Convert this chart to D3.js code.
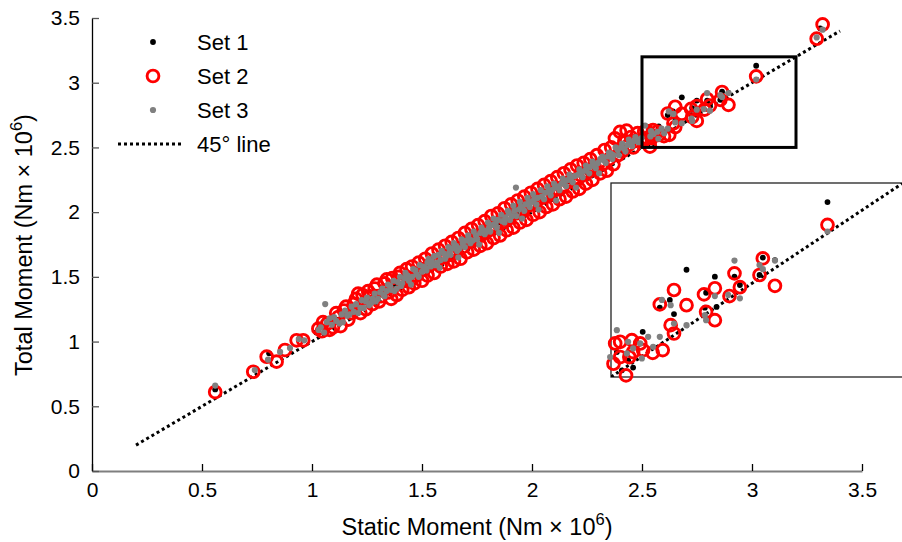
<!DOCTYPE html>
<html><head><meta charset="utf-8">
<script src="https://cdn.jsdelivr.net/npm/d3@7"></script>
<style>
body{margin:0;background:#fff;}
text{font-family:"Liberation Sans",Arial,Helvetica,sans-serif;fill:#000;}
</style></head>
<body><svg id="c" width="902" height="542"></svg>
<script>
const xTicks=[0,0.5,1,1.5,2,2.5,3,3.5];
const xTickLabels=["0","0.5","1","1.5","2","2.5","3","3.5"];
const yTicks=[0,0.5,1,1.5,2,2.5,3,3.5];
const yTickLabels=["0","0.5","1","1.5","2","2.5","3","3.5"];
const seriesNames=["Set 1","Set 2","Set 3","45° line"];
const lineEnds=[0.2,3.4];
const zoomBox=[2.5,3.2];

const set1=[[0.56,0.63],[0.805,0.909],[1.02,1.07],[1.12,1.17],[1.22,1.27],[1.30,1.36],[1.38,1.44],[1.46,1.53],[1.53,1.59],[1.61,1.68],[1.69,1.75],[1.77,1.83],[1.85,1.92],[1.93,1.99],[2.01,2.08],[2.09,2.15],[2.17,2.24],[2.25,2.31],[2.33,2.40],[2.41,2.47],[2.514,2.590],[2.526,2.524],[2.541,2.560],[2.553,2.534],[2.576,2.663],[2.617,2.750],[2.641,2.778],[2.651,2.727],[2.681,2.887],[2.725,2.750],[2.728,2.804],[2.749,2.862],[2.753,2.753],[2.796,2.862],[2.809,2.832],[2.856,2.868],[2.864,2.931],[2.893,2.922],[3.019,3.131],[3.31,3.42]];

const set2=[[0.56,0.61],[0.733,0.767],[0.794,0.883],[0.839,0.845],[0.877,0.935],[0.93,1.01],[0.96,1.01],[1.029,1.10],[1.045,1.08],[1.07,1.14],[1.095,1.11],[1.12,1.19],[1.145,1.24],[1.165,1.17],[1.19,1.29],[1.21,1.37],[1.23,1.36],[1.245,1.25],[1.265,1.35],[1.285,1.41],[1.305,1.31],[1.33,1.45],[1.35,1.38],[1.365,1.49],[1.385,1.36],[1.40,1.53],[1.42,1.47],[1.44,1.42],[1.455,1.58],[1.475,1.51],[1.50,1.47],[1.515,1.64],[1.535,1.59],[1.555,1.53],[1.575,1.71],[1.595,1.65],[1.615,1.60],[1.635,1.77],[1.655,1.70],[1.675,1.64],[1.695,1.84],[1.715,1.77],[1.735,1.71],[1.755,1.90],[1.775,1.83],[1.795,1.76],[1.815,1.97],[1.835,1.89],[1.855,1.82],[1.875,2.03],[1.895,1.95],[1.915,1.88],[1.935,2.09],[1.955,2.01],[1.975,1.94],[1.995,2.15],[2.015,2.07],[2.035,2.00],[2.055,2.21],[2.075,2.13],[2.095,2.06],[2.115,2.27],[2.135,2.19],[2.155,2.12],[2.175,2.33],[2.195,2.25],[2.215,2.18],[2.235,2.38],[2.255,2.31],[2.275,2.25],[2.295,2.44],[2.32,2.37],[2.34,2.32],[2.36,2.50],[2.377,2.57],[2.39,2.44],[2.40,2.62],[2.42,2.55],[2.43,2.63],[2.45,2.58],[2.46,2.50],[2.48,2.61],
[1.05,1.15],[1.08,1.09],[1.11,1.22],[1.13,1.12],[1.155,1.27],[1.18,1.22],[1.20,1.33],[1.22,1.22],[1.255,1.39],[1.275,1.29],[1.295,1.44],[1.315,1.35],[1.34,1.48],[1.36,1.33],[1.375,1.43],[1.395,1.50],[1.41,1.40],[1.43,1.56],[1.45,1.48],[1.465,1.45],[1.485,1.61],[1.51,1.56],[1.525,1.51],[1.545,1.68],[1.565,1.62],[1.585,1.58],[1.605,1.74],[1.625,1.67],[1.645,1.62],[1.665,1.80],[1.685,1.73],[1.705,1.69],[1.725,1.87],[1.745,1.79],[1.765,1.74],[1.785,1.93],[1.805,1.86],[1.825,1.80],[1.845,1.99],[1.865,1.92],[1.885,1.86],[1.905,2.06],[1.925,1.99],[1.945,1.92],[1.965,2.12],[1.985,2.05],[2.005,1.98],[2.025,2.18],[2.045,2.11],[2.065,2.04],[2.085,2.24],[2.105,2.17],[2.125,2.10],[2.145,2.30],[2.165,2.23],[2.185,2.16],[2.205,2.36],[2.225,2.28],[2.245,2.22],[2.265,2.41],[2.285,2.35],[2.31,2.30],[2.33,2.48],[2.35,2.41],[2.37,2.37],[2.41,2.47],[2.44,2.52],[2.47,2.55],
[2.506,2.548],[2.510,2.621],[2.522,2.627],[2.522,2.572],[2.536,2.506],[2.544,2.572],[2.550,2.633],[2.553,2.590],[2.570,2.621],[2.577,2.597],[2.600,2.587],[2.624,2.597],[2.617,2.762],[2.643,2.687],[2.651,2.657],[2.651,2.814],[2.681,2.759],[2.723,2.798],[2.728,2.735],[2.749,2.705],[2.749,2.820],[2.784,2.792],[2.796,2.874],[2.809,2.824],[2.856,2.868],[2.864,2.928],[2.893,2.829],[3.019,3.049],[3.294,3.34],[3.321,3.45]];

const set3=[[0.56,0.66],[0.74,0.78],[0.80,0.86],[0.855,0.92],[0.90,0.95],[0.94,1.02],[0.965,1.01],[1.03,1.09],[1.06,1.29],[1.067,1.15],[1.08,1.18],[1.11,1.16],[1.135,1.21],[1.14,1.15],[1.16,1.20],[1.18,1.27],[1.19,1.23],[1.226,1.32],[1.235,1.26],[1.25,1.34],[1.27,1.30],[1.285,1.37],[1.30,1.33],[1.32,1.41],[1.33,1.35],[1.345,1.44],[1.36,1.40],[1.37,1.47],[1.385,1.41],[1.40,1.50],[1.41,1.45],[1.425,1.53],[1.44,1.47],[1.45,1.44],[1.46,1.56],[1.475,1.52],[1.49,1.59],[1.50,1.54],[1.515,1.57],[1.53,1.64],[1.54,1.58],[1.555,1.66],[1.57,1.61],[1.58,1.57],[1.59,1.70],[1.605,1.64],[1.62,1.73],[1.63,1.67],[1.645,1.76],[1.66,1.70],[1.665,1.65],[1.68,1.79],[1.695,1.73],[1.71,1.82],[1.72,1.76],[1.735,1.85],[1.75,1.79],[1.76,1.75],[1.77,1.88],[1.785,1.83],[1.80,1.92],[1.81,1.85],[1.825,1.95],[1.84,1.88],[1.85,1.84],[1.86,1.98],[1.875,1.92],[1.89,2.01],[1.90,1.94],[1.915,2.05],[1.927,2.19],[1.93,1.97],[1.945,2.08],[1.955,1.95],[1.965,2.01],[1.98,2.11],[1.99,2.04],[2.005,2.14],[2.02,2.06],[2.03,2.02],[2.04,2.17],[2.055,2.10],[2.07,2.20],[2.085,2.13],[2.10,2.22],[2.11,2.09],[2.125,2.17],[2.14,2.26],[2.155,2.20],[2.17,2.29],[2.185,2.23],[2.20,2.19],[2.215,2.33],[2.23,2.27],[2.245,2.36],[2.26,2.30],[2.275,2.39],[2.29,2.34],[2.305,2.30],[2.32,2.43],[2.335,2.38],[2.35,2.46],[2.365,2.41],[2.38,2.50],[2.395,2.44],[2.41,2.53],[2.425,2.47],[2.44,2.56],[2.455,2.51],[2.47,2.58],[2.485,2.54],
[1.04,1.11],[1.055,1.07],[1.09,1.13],[1.10,1.19],[1.125,1.14],[1.15,1.24],[1.17,1.21],[1.20,1.29],[1.21,1.22],[1.22,1.26],[1.245,1.31],[1.26,1.28],[1.275,1.33],[1.29,1.31],[1.31,1.38],[1.325,1.36],[1.34,1.39],[1.355,1.43],[1.375,1.39],[1.39,1.46],[1.405,1.43],[1.42,1.49],[1.435,1.51],[1.455,1.50],[1.47,1.55],[1.485,1.50],[1.505,1.58],[1.52,1.55],[1.525,1.61],[1.545,1.62],[1.56,1.59],[1.575,1.67],[1.585,1.63],[1.60,1.68],[1.61,1.66],[1.625,1.69],[1.64,1.72],[1.655,1.74],[1.67,1.72],[1.685,1.76],[1.70,1.78],[1.715,1.79],[1.73,1.78],[1.745,1.82],[1.765,1.84],[1.78,1.86],[1.795,1.85],[1.805,1.88],[1.82,1.90],[1.835,1.91],[1.845,1.94],[1.865,1.93],[1.88,1.96],[1.895,1.99],[1.91,1.97],[1.92,2.01],[1.94,2.02],[1.95,2.04],[1.97,2.06],[1.985,2.07],[2.00,2.08],[2.01,2.10],[2.025,2.11],[2.045,2.12],[2.06,2.15],[2.075,2.16],[2.09,2.17],[2.105,2.19],[2.12,2.20],[2.135,2.22],[2.15,2.24],[2.165,2.25],[2.18,2.27],[2.195,2.28],[2.21,2.29],[2.225,2.31],[2.24,2.32],[2.25,2.34],[2.265,2.35],[2.28,2.37],[2.30,2.38],[2.31,2.41],[2.325,2.40],[2.345,2.43],[2.36,2.45],[2.37,2.44],[2.39,2.48],[2.405,2.50],[2.42,2.49],[2.435,2.52],[2.45,2.54],[2.465,2.55],[2.48,2.56],
[2.498,2.572],[2.514,2.669],[2.538,2.585],[2.541,2.627],[2.553,2.603],[2.570,2.621],[2.574,2.567],[2.589,2.645],[2.601,2.609],[2.617,2.645],[2.622,2.778],[2.643,2.759],[2.651,2.693],[2.681,2.687],[2.725,2.723],[2.728,2.705],[2.749,2.792],[2.781,2.796],[2.809,2.784],[2.796,2.920],[2.856,2.904],[2.864,2.889],[2.893,2.920],[3.019,3.025],[3.294,3.35],[3.321,3.41]];

const svg=d3.select("#c");
const x=d3.scaleLinear().domain([0,3.5]).range([92,862]);
const y=d3.scaleLinear().domain([0,3.5]).range([471,18]);
const ix=d3.scaleLinear().domain(zoomBox).range([611,903]);
const iy=d3.scaleLinear().domain(zoomBox).range([377,183]);

const FS=21;
// axes
const xa=svg.append("g").attr("transform","translate(0,471)")
  .call(d3.axisBottom(x).tickValues(xTicks).tickFormat((d,i)=>xTickLabels[i]).tickSize(-7).tickSizeOuter(0).tickPadding(11));
xa.select(".domain").attr("stroke","#7f7f7f").attr("stroke-width",2);
xa.selectAll(".tick line").attr("stroke","#000").attr("stroke-width",1.3);
xa.selectAll(".tick text").attr("font-size",FS).attr("font-family","Liberation Sans, Arial");
const ya=svg.append("g").attr("transform","translate(92,0)")
  .call(d3.axisLeft(y).tickValues(yTicks).tickFormat((d,i)=>yTickLabels[i]).tickSize(-7).tickSizeOuter(0).tickPadding(12));
ya.select(".domain").attr("stroke","#000").attr("stroke-width",1.3);
ya.selectAll(".tick line").attr("stroke","#555").attr("stroke-width",1.3);
ya.selectAll(".tick text").attr("font-size",FS).attr("font-family","Liberation Sans, Arial");

// titles
const xt=svg.append("text").attr("x",477).attr("y",535).attr("text-anchor","middle").attr("font-size",23.5);
xt.append("tspan").text("Static Moment (Nm \u00d7 10");
xt.append("tspan").attr("font-size",16.5).attr("dy",-10).text("6");
xt.append("tspan").attr("dy",10).text(")");
const yt=svg.append("text").attr("transform","translate(32,245) rotate(-90)").attr("text-anchor","middle").attr("font-size",23.5);
yt.append("tspan").text("Total Moment (Nm \u00d7 10");
yt.append("tspan").attr("font-size",16.5).attr("dy",-10).text("6");
yt.append("tspan").attr("dy",10).text(")");

// 45 line main
svg.append("line").attr("x1",x(lineEnds[0])).attr("y1",y(lineEnds[0])).attr("x2",x(lineEnds[1])).attr("y2",y(lineEnds[1]))
  .attr("stroke","#000").attr("stroke-width",3).attr("stroke-dasharray","3,3");

function drawSets(g,sx,sy,filt){
  g.selectAll(".s1").data(set1.filter(filt)).enter().append("circle")
    .attr("cx",d=>sx(d[0])).attr("cy",d=>sy(d[1])).attr("r",2.9).attr("fill","#000");
  g.selectAll(".s2").data(set2.filter(filt)).enter().append("circle")
    .attr("cx",d=>sx(d[0])).attr("cy",d=>sy(d[1])).attr("r",5.9).attr("fill","none").attr("stroke","#ff0000").attr("stroke-width",2.9);
  g.selectAll(".s3").data(set3.filter(filt)).enter().append("circle")
    .attr("cx",d=>sx(d[0])).attr("cy",d=>sy(d[1])).attr("r",3.1).attr("fill","#808080");
}
drawSets(svg.append("g"),x,y,()=>true);

// zoom rectangle
svg.append("rect").attr("x",x(zoomBox[0])).attr("y",y(zoomBox[1])).attr("width",x(zoomBox[1])-x(zoomBox[0])).attr("height",y(zoomBox[0])-y(zoomBox[1]))
  .attr("fill","none").attr("stroke","#000").attr("stroke-width",3);

// inset
const ig=svg.append("g");
ig.append("rect").attr("x",ix(zoomBox[0])).attr("y",iy(zoomBox[1])).attr("width",ix(zoomBox[1])-ix(zoomBox[0])).attr("height",iy(zoomBox[0])-iy(zoomBox[1]))
  .attr("fill","#fff").attr("stroke","#222").attr("stroke-width",1.3);
ig.append("clipPath").attr("id","ic").append("rect").attr("x",ix(zoomBox[0])).attr("y",iy(zoomBox[1])).attr("width",ix(zoomBox[1])-ix(zoomBox[0])).attr("height",iy(zoomBox[0])-iy(zoomBox[1]));
ig.append("line").attr("clip-path","url(#ic)").attr("x1",ix(lineEnds[0])).attr("y1",iy(lineEnds[0])).attr("x2",ix(lineEnds[1])).attr("y2",iy(lineEnds[1]))
  .attr("stroke","#000").attr("stroke-width",3).attr("stroke-dasharray","3,3");
drawSets(ig,ix,iy,d=>d[0]>=2.49&&d[0]<=3.2&&d[1]>=2.49&&d[1]<=3.2);

// legend
const lg=svg.append("g");
const ly=[42,76,110,144];
lg.append("circle").attr("cx",153).attr("cy",ly[0]).attr("r",2.9).attr("fill","#000");
lg.append("circle").attr("cx",153).attr("cy",ly[1]).attr("r",5.9).attr("fill","none").attr("stroke","#ff0000").attr("stroke-width",2.9);
lg.append("circle").attr("cx",153).attr("cy",ly[2]).attr("r",3.1).attr("fill","#808080");
lg.append("line").attr("x1",118).attr("x2",184).attr("y1",ly[3]).attr("y2",ly[3]).attr("stroke","#000").attr("stroke-width",3).attr("stroke-dasharray","3,3");
lg.selectAll("text.lt").data(seriesNames).enter().append("text").attr("class","lt")
  .attr("x",197).attr("y",(d,i)=>ly[i]+8).attr("font-size",22).text(d=>d);
</script></body></html>
